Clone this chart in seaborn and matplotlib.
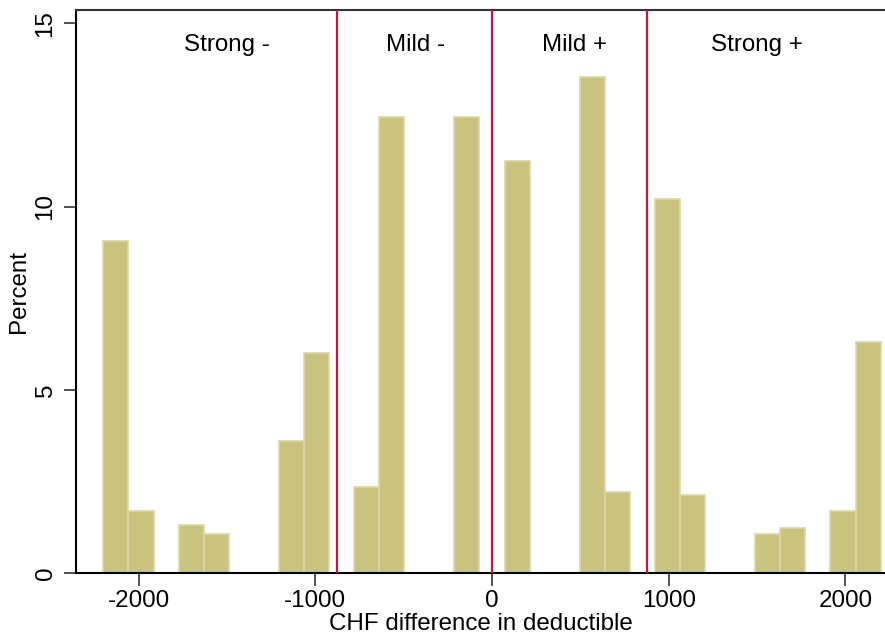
import numpy as np
import pandas as pd
import matplotlib
matplotlib.use("Agg")
import matplotlib.pyplot as plt
import seaborn as sns

# Data: CHF difference in deductible and share (%) of observations
diffs = [-2200, -2000, -1700, -1500, -1200, -1000, -700, -500, -200,
         200, 500, 700, 1000, 1200, 1500, 1700, 2000, 2200]
percents = [9.06, 1.70, 1.32, 1.06, 3.61, 6.02, 2.34, 12.43, 12.43,
            11.23, 13.53, 2.21, 10.21, 2.14, 1.06, 1.24, 1.70, 6.32]
cutoffs = [-875, 0, 875]
group_labels = ["Strong -", "Mild -", "Mild +", "Strong +"]
group_x = [-1500, -430, 465, 1500]
xticks = [-2000, -1000, 0, 1000, 2000]
yticks = [0, 5, 10, 15]

df = pd.DataFrame({"diff": diffs, "pct": percents})

sns.set_theme(style="white")
plt.rcParams["font.family"] = ["Liberation Sans", "DejaVu Sans"]
plt.rcParams["text.color"] = "black"
plt.rcParams["axes.labelcolor"] = "black"
plt.rcParams["xtick.color"] = "black"
plt.rcParams["ytick.color"] = "black"

FS = 17.4

fig = plt.figure(figsize=(8.85, 6.41), dpi=100)
ax = fig.add_axes([76 / 885, 1 - 573.3 / 641, 1 - 76 / 885, (573.3 - 10) / 641])

sns.histplot(data=df, x="diff", weights="pct", bins=31, binrange=(-2200, 2200),
             color="#C9C37F", alpha=1.0, edgecolor="#DCD7A8", linewidth=1.2, ax=ax)

for c in cutoffs:
    ax.axvline(c, color="#C8143C", linewidth=1.6, zorder=3)

for lab, gx in zip(group_labels, group_x):
    ax.text(gx, 14.4, lab, ha="center", va="center", fontsize=FS, color="black")

ax.set_xlim(-2355, 2225)
ax.set_ylim(0, 15.36)
ax.set_xticks(xticks)
ax.set_yticks(yticks)
ax.set_xticklabels([str(t) for t in xticks], fontsize=FS)
ax.set_yticklabels([str(t) for t in yticks], fontsize=FS, rotation=90, va="center")
ax.tick_params(axis="both", direction="out", length=9, width=1.2, color="#333333",
               labelcolor="black", bottom=True, left=True, pad=3)
ax.tick_params(axis="y", pad=5)
ax.set_xlabel("CHF difference in deductible", fontsize=FS, labelpad=1)
ax.set_ylabel("Percent", fontsize=FS, labelpad=3)

for side in ["left", "bottom", "top"]:
    ax.spines[side].set_visible(True)
    ax.spines[side].set_color("black")
    ax.spines[side].set_linewidth(1.5)
ax.spines["top"].set_color("#333333")
ax.spines["right"].set_visible(False)

fig.savefig("out.png", dpi=100)
